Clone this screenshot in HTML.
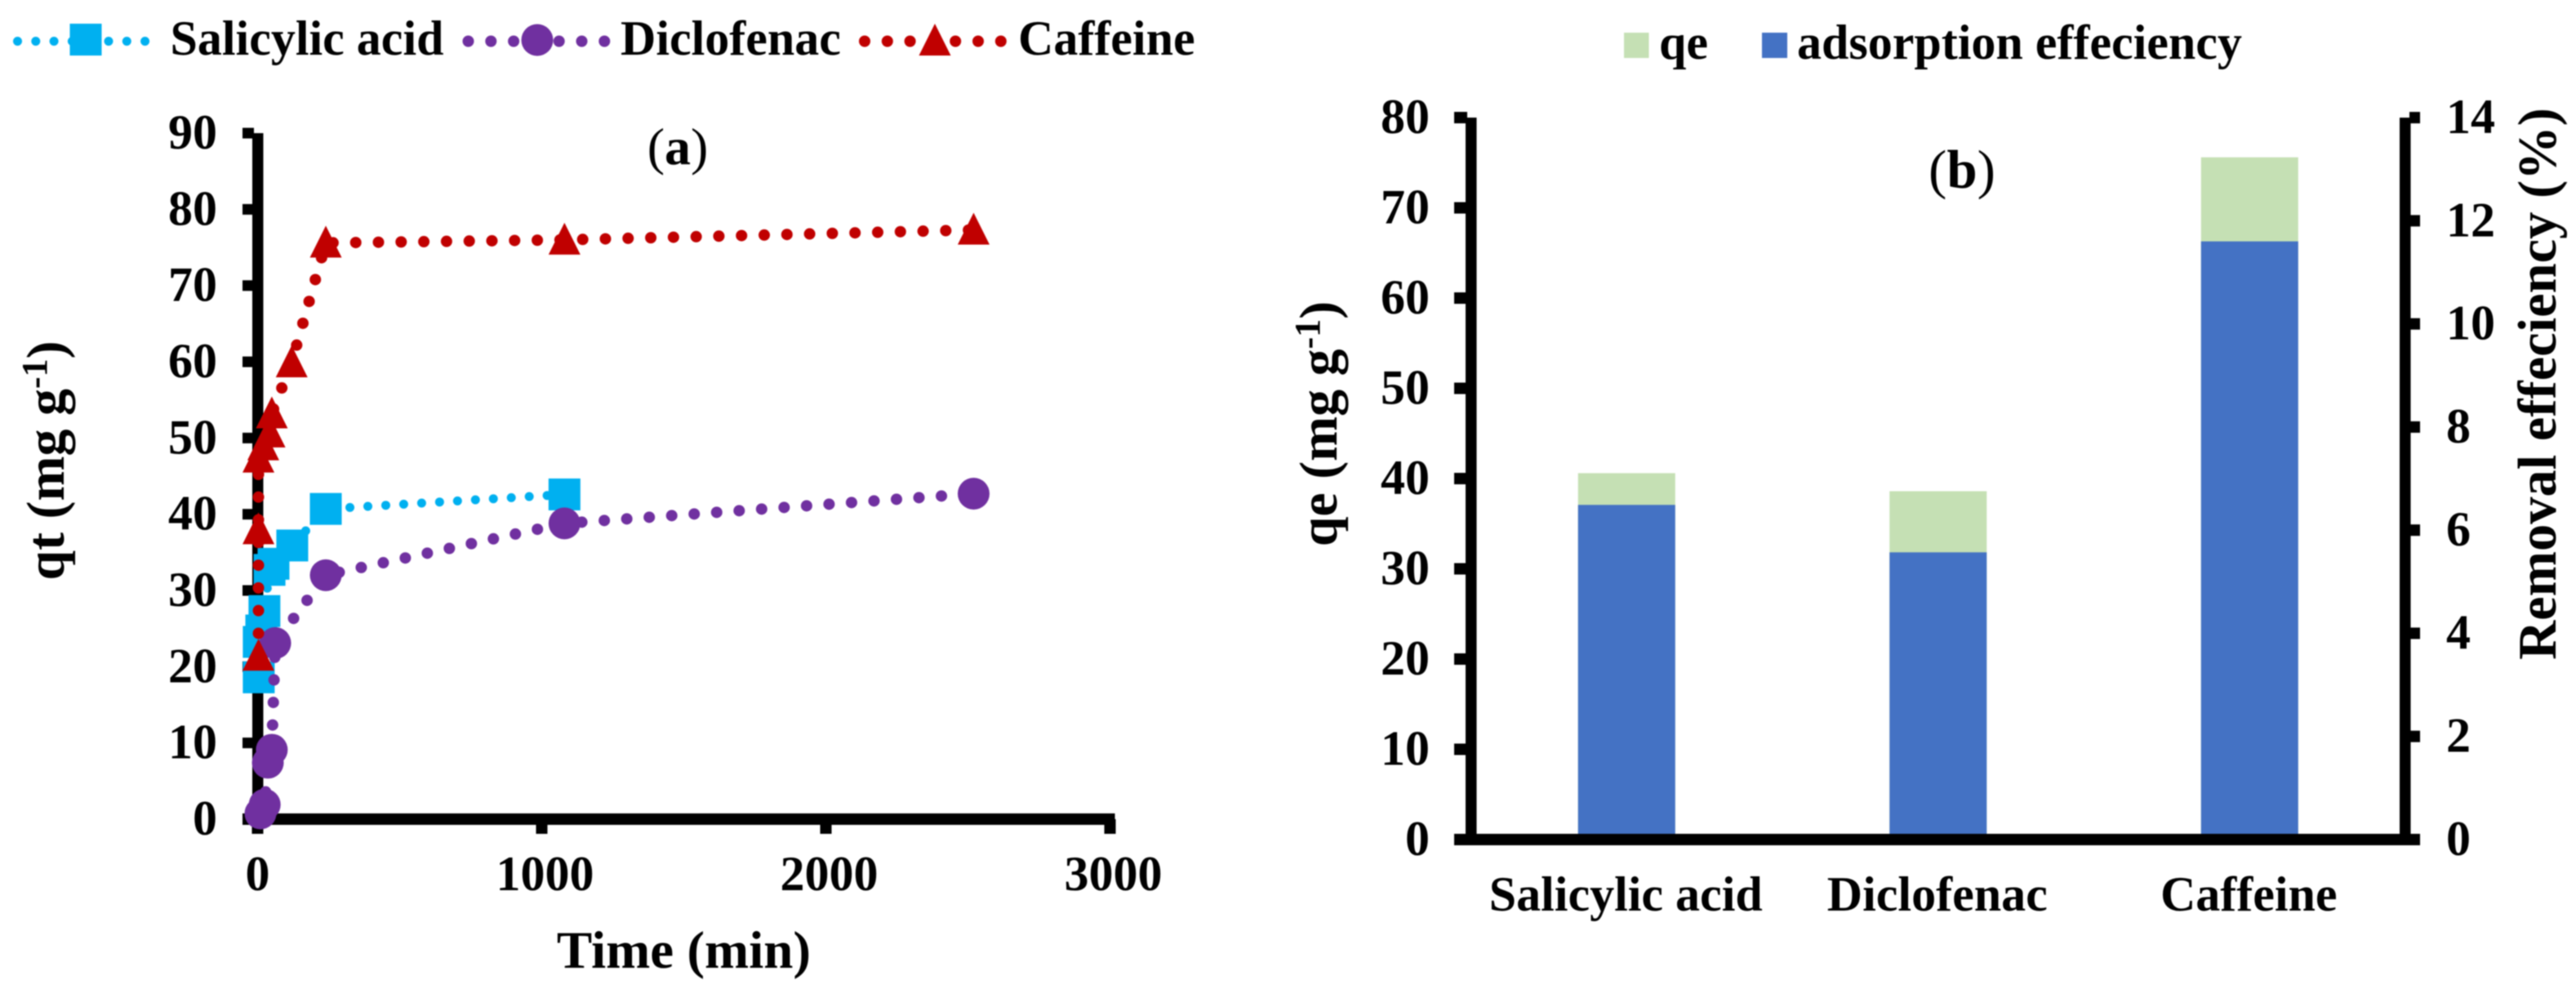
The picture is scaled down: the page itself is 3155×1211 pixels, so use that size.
<!DOCTYPE html>
<html lang="en">
<head>
<meta charset="utf-8">
<title>Adsorption kinetics and removal efficiency</title>
<style>
html,body{margin:0;padding:0;background:#fff;}
#figure{display:block;width:3155px;height:1211px;filter:blur(0.7px);}
text{font-family:"Liberation Serif","Times New Roman",serif;font-weight:bold;font-size:60px;fill:#000;}
</style>
</head>
<body>
<svg id="figure" xmlns="http://www.w3.org/2000/svg" width="3155" height="1211" viewBox="0 0 3155 1211">
  <rect x="0" y="0" width="3155" height="1211" fill="#fff"/>

  <g id="panel-a">
    <g>
      <g>
        <line x1="21.5" y1="50.5" x2="178" y2="50.5" stroke="#00B0F0" stroke-width="11" stroke-linecap="round" stroke-dasharray="0 22.3"/>
        <rect x="85.5" y="29" width="39" height="39" fill="#00B0F0"/>
        <text x="208.5" y="67">Salicylic acid</text>
      </g>
      <g>
        <line x1="573.5" y1="50.5" x2="740.5" y2="50.5" stroke="#7030A0" stroke-width="14" stroke-linecap="round" stroke-dasharray="0 27.8"/>
        <circle cx="658" cy="49" r="19.5" fill="#7030A0"/>
        <text x="760" y="67">Diclofenac</text>
      </g>
      <g>
        <line x1="1059" y1="50.5" x2="1228" y2="50.5" stroke="#C00000" stroke-width="14" stroke-linecap="round" stroke-dasharray="0 27.8"/>
        <polygon points="1145,29 1164.5,68 1125.5,68" fill="#C00000"/>
        <text x="1247" y="67">Caffeine</text>
      </g>
    </g>
    <text x="830" y="201" text-anchor="middle" style="font-size:64px;font-weight:normal">(<tspan style="font-weight:bold">a</tspan>)</text>
    <g id="a-axes"></g>
    <g id="a-series"></g>
    <text x="837.5" y="1185" text-anchor="middle" style="font-size:65px">Time (min)</text>
    <text transform="translate(78 564) rotate(-90)" text-anchor="middle" style="font-size:66px">qt (mg g<tspan dy="-21" style="font-size:44px">-1</tspan><tspan dy="21">)</tspan></text>
  </g>

  <g id="panel-b">
    <g>
      <g>
        <rect x="1989" y="40" width="30.5" height="31" fill="#C5E0B4"/>
        <text x="2032" y="72">qe</text>
      </g>
      <g>
        <rect x="2158" y="40" width="31" height="31" fill="#4472C4"/>
        <text x="2201" y="72">adsorption effeciency</text>
      </g>
    </g>
    <g id="b-bars"></g>
    <g id="b-axes"></g>
    <text x="2403" y="230" text-anchor="middle" style="font-size:67px;font-weight:normal">(<tspan style="font-weight:bold">b</tspan>)</text>
    <text transform="translate(1637 519) rotate(-90)" text-anchor="middle" style="font-size:66px">qe (mg g<tspan dy="-21" style="font-size:44px">-1</tspan><tspan dy="21">)</tspan></text>
    <text transform="translate(3130 470) rotate(-90)" text-anchor="middle" style="font-size:66.5px">Removal effeciency (%)</text>
  </g>
</svg>
<script>
// Panel (a) data
var aXTicks = [0, 1000, 2000, 3000];
var aYTicks = [0, 10, 20, 30, 40, 50, 60, 70, 80, 90];
var salicylicTime = [4, 4, 13, 24, 42, 56, 122, 240, 1080];
var salicylicQt = [18.6, 23.25, 24.75, 27.3, 32.7, 33.5, 35.9, 40.7, 42.6];
var diclofenacTime = [10, 25, 36, 50, 62, 240, 1080, 2520];
var diclofenacQt = [0.75, 1.9, 7.4, 9.1, 23.1, 32.0, 38.8, 42.7];
var caffeineTime = [3, 3, 3, 20, 42, 50, 120, 240, 1080, 2520];
var caffeineQt = [21.4, 38, 47.4, 49, 50.7, 53.2, 59.9, 75.6, 76.0, 77.3];

// Panel (b) data
var bCategories = ['Salicylic acid', 'Diclofenac', 'Caffeine'];
var bQe = [40.6, 38.6, 75.6];
var bEfficiency = [6.49, 5.57, 11.6];
var bLeftTicks = [0, 10, 20, 30, 40, 50, 60, 70, 80];
var bRightTicks = [0, 2, 4, 6, 8, 10, 12, 14];

var NS = 'http://www.w3.org/2000/svg';
function make(tag, parent, attrs, txt) {
  var el = document.createElementNS(NS, tag);
  for (var k in attrs) { el.setAttribute(k, attrs[k]); }
  if (txt !== undefined) { el.textContent = txt; }
  parent.appendChild(el);
  return el;
}

// Axis functions
function xA(t) { return 315.5 + t * 0.348; }
function yA(v) { return 1003 - v * 9.333; }
function yBLeft(v) { return 1028 - v * 11.05; }
function yBRight(v) { return 1028 - v * 63.14; }
var bLeftEdge = 1801.5, bRightEdge = 2946;
function xBand(i) { return bLeftEdge + (bRightEdge - bLeftEdge) / bCategories.length * (i + 0.5); }

// Panel (a) axes
var aAxes = document.getElementById('a-axes');
var yAxisA = make('rect', aAxes, {x: 309, y: yA(90), width: 13.5, height: yA(0) - yA(90) + 6, fill: '#000'});


var xAxisA = make('rect', aAxes, {x: 297, y: yA(0) - 7, width: xA(3000) + 6 - 297, height: 14, fill: '#000'});


aYTicks.forEach(function (v) {
  var tick = make('rect', aAxes, {x: 297, y: yA(v) - 6.5, width: 14, height: 13, fill: '#000'});
  
  
  var label = make('text', aAxes, {x: 266, y: yA(v) + 19, 'text-anchor': 'end'}, String(v));
  
  
});
aXTicks.forEach(function (t) {
  var tick = make('rect', aAxes, {x: xA(t) - 7, y: yA(0), width: 14, height: 18, fill: '#000'});
  
  
  var label = make('text', aAxes, {x: xA(t) + (t ? 4 : 0), y: 1090, 'text-anchor': 'middle'}, String(t));
  
  
});

// Panel (a) series
var aSeries = document.getElementById('a-series');
function polyPoints(times, vals) {
  return times.map(function (t, i) { return xA(t) + ',' + yA(vals[i]); }).join(' ');
}

var salGroup = make('g', aSeries, {});


var salLine = make('polyline', salGroup, {points: polyPoints(salicylicTime, salicylicQt), fill: 'none', stroke: '#00B0F0', 'stroke-width': 11, 'stroke-linecap': 'round', 'stroke-linejoin': 'round', 'stroke-dasharray': '0 22'});


salicylicTime.forEach(function (t, i) {
  var m = make('rect', salGroup, {x: xA(t) - 19.5, y: yA(salicylicQt[i]) - 19.5, width: 39, height: 39, fill: '#00B0F0'});
  
  
});

var dicGroup = make('g', aSeries, {});


var dicLine = make('polyline', dicGroup, {points: polyPoints(diclofenacTime, diclofenacQt), fill: 'none', stroke: '#7030A0', 'stroke-width': 14, 'stroke-linecap': 'round', 'stroke-linejoin': 'round', 'stroke-dasharray': '0 27.6'});


diclofenacTime.forEach(function (t, i) {
  var m = make('circle', dicGroup, {cx: xA(t), cy: yA(diclofenacQt[i]), r: 19.5, fill: '#7030A0'});
  
  
});

var cafGroup = make('g', aSeries, {});


var cafLine = make('polyline', cafGroup, {points: polyPoints(caffeineTime, caffeineQt), fill: 'none', stroke: '#C00000', 'stroke-width': 14, 'stroke-linecap': 'round', 'stroke-linejoin': 'round', 'stroke-dasharray': '0 27.8'});


caffeineTime.forEach(function (t, i) {
  var px = xA(t), py = yA(caffeineQt[i]);
  var m = make('polygon', cafGroup, {points: px + ',' + (py - 21) + ' ' + (px + 19.5) + ',' + (py + 18) + ' ' + (px - 19.5) + ',' + (py + 18), fill: '#C00000'});
  
  
});

// Panel (b) bars
var bBars = document.getElementById('b-bars');
var barWidth = 119;
bCategories.forEach(function (c, i) {
  var green = make('rect', bBars, {x: xBand(i) - barWidth / 2, y: yBLeft(bQe[i]), width: barWidth, height: yBLeft(0) - yBLeft(bQe[i]), fill: '#C5E0B4'});
  
  
  var blue = make('rect', bBars, {x: xBand(i) - barWidth / 2, y: yBRight(bEfficiency[i]), width: barWidth, height: yBRight(0) - yBRight(bEfficiency[i]), fill: '#4472C4'});
  
  
  var label = make('text', bBars, {x: xBand(i) - 1, y: 1115, 'text-anchor': 'middle'}, c);
  
  
});

// Panel (b) axes
var bAxes = document.getElementById('b-axes');
var leftAxis = make('rect', bAxes, {x: 1795, y: yBLeft(80), width: 13.5, height: yBLeft(0) - yBLeft(80) + 7, fill: '#000'});


var rightAxis = make('rect', bAxes, {x: 2939, y: yBRight(14), width: 13.5, height: yBRight(0) - yBRight(14) + 7, fill: '#000'});


var baseAxis = make('rect', bAxes, {x: 1781, y: yBLeft(0) - 7, width: 2964 - 1781, height: 14, fill: '#000'});


bLeftTicks.forEach(function (v) {
  var tick = make('rect', bAxes, {x: 1781, y: yBLeft(v) - 7, width: 16, height: 14, fill: '#000'});
  
  
  var label = make('text', bAxes, {x: 1751, y: yBLeft(v) + 19, 'text-anchor': 'end'}, String(v));
  
  
});
bRightTicks.forEach(function (v) {
  var tick = make('rect', bAxes, {x: 2951, y: yBRight(v) - 7, width: 13, height: 14, fill: '#000'});
  
  
  var label = make('text', bAxes, {x: 2996, y: yBRight(v) + 19}, String(v));
  
  
});
</script>
</body>
</html>
